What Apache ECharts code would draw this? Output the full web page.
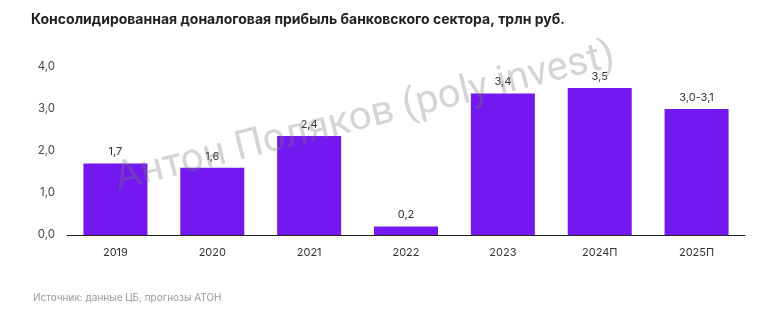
<!DOCTYPE html>
<html><head><meta charset="utf-8">
<script src="https://cdn.jsdelivr.net/npm/echarts@6/dist/echarts.min.js"></script>
<style>html,body{margin:0;padding:0;background:#fff}#c{width:758px;height:317px}</style>
</head><body><div id="c"></div>
<script>
const categories = ['2019','2020','2021','2022','2023','2024П','2025П'];
const values = [1.7, 1.6, 2.36, 0.2, 3.37, 3.5, 3.0];
const valueLabels = ['1,7','1,6','2,4','0,2','3,4','3,5','3,0-3,1'];
const yTicks = [0, 1, 2, 3, 4];
const titleText = 'Консолидированная доналоговая прибыль банковского сектора, трлн руб.';
const sourceText = 'Источник: данные ЦБ, прогнозы АТОН';
const watermarkText = 'Антон Поляков (poly invest)';

const chart = echarts.init(document.getElementById('c'));
chart.setOption({
  animation: false,
  backgroundColor: '#fff',
  textStyle: { fontFamily: 'Inter, "Noto Sans", sans-serif' },
  title: {
    text: titleText, left: 26, top: 8,
    textStyle: { fontSize: 14, fontWeight: 'bold', color: '#222', fontFamily: 'Inter, "Noto Sans", sans-serif' }
  },
  grid: { left: 67, right: 13, top: 67, bottom: 82 },
  xAxis: {
    type: 'category', data: categories,
    axisLine: { lineStyle: { color: '#222', width: 1 } },
    axisTick: { show: false },
    axisLabel: { color: '#333', fontSize: 11, margin: 12 }
  },
  yAxis: {
    type: 'value', min: yTicks[0], max: yTicks[yTicks.length - 1], interval: 1,
    splitLine: { show: false },
    axisLine: { show: false }, axisTick: { show: false },
    axisLabel: { color: '#444', fontSize: 11.5, margin: 12, formatter: v => v.toFixed(1).replace('.', ',') }
  },
  series: [{
    type: 'bar', data: values, barWidth: 64,
    itemStyle: { color: '#7318EF' },
    label: {
      show: true, position: 'top', distance: 6, color: '#333', fontSize: 11,
      formatter: p => valueLabels[p.dataIndex]
    }
  }],
  graphic: [
    {
      type: 'text', left: 33, top: 293,
      style: { text: sourceText, fill: '#999', fontSize: 10, fontFamily: 'Inter, "Noto Sans", sans-serif' }
    },
    {
      type: 'text', x: 365, y: 118, rotation: 0.245, z: 100,
      style: {
        text: watermarkText, fill: 'rgba(120,120,120,0.32)', fontSize: 40,
        fontFamily: 'Roboto, "Noto Sans", sans-serif',
        align: 'center', verticalAlign: 'middle'
      }
    }
  ]
});
</script></body></html>
